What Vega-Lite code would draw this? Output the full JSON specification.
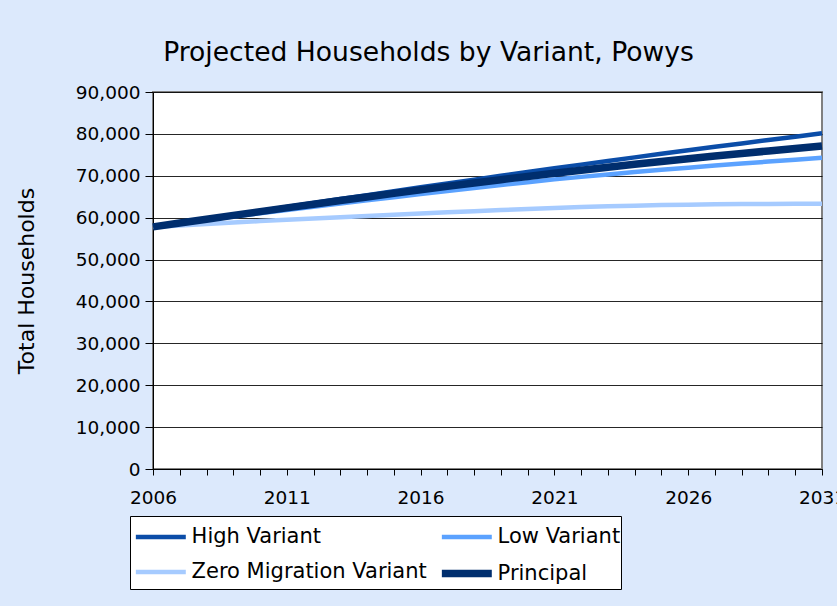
{
  "$schema": "https://vega.github.io/schema/vega-lite/v6.json",
  "width": 669,
  "height": 377,
  "autosize": {"type": "none"},
  "padding": {"left": 153, "top": 92, "right": 15, "bottom": 137},
  "background": "#DCE9FC",
  "config": {
    "view": {"fill": "white", "stroke": "#808080", "strokeWidth": 2},
    "font": "DejaVu Sans"
  },
  "title": {
    "text": "Projected Households by Variant, Powys",
    "font": "DejaVu Sans",
    "fontSize": 26.6,
    "fontWeight": "normal",
    "color": "black",
    "anchor": "middle",
    "frame": "group",
    "dx": -59,
    "offset": 16
  },
  "data": {
    "values": [
      {"year": 2006, "variant": "High Variant", "households": 57800},
      {"year": 2007, "variant": "High Variant", "households": 58750},
      {"year": 2008, "variant": "High Variant", "households": 59700},
      {"year": 2009, "variant": "High Variant", "households": 60650},
      {"year": 2010, "variant": "High Variant", "households": 61600},
      {"year": 2011, "variant": "High Variant", "households": 62550},
      {"year": 2012, "variant": "High Variant", "households": 63500},
      {"year": 2013, "variant": "High Variant", "households": 64440},
      {"year": 2014, "variant": "High Variant", "households": 65380},
      {"year": 2015, "variant": "High Variant", "households": 66310},
      {"year": 2016, "variant": "High Variant", "households": 67240},
      {"year": 2017, "variant": "High Variant", "households": 68160},
      {"year": 2018, "variant": "High Variant", "households": 69080},
      {"year": 2019, "variant": "High Variant", "households": 69990},
      {"year": 2020, "variant": "High Variant", "households": 70890},
      {"year": 2021, "variant": "High Variant", "households": 71780},
      {"year": 2022, "variant": "High Variant", "households": 72660},
      {"year": 2023, "variant": "High Variant", "households": 73530},
      {"year": 2024, "variant": "High Variant", "households": 74390},
      {"year": 2025, "variant": "High Variant", "households": 75240},
      {"year": 2026, "variant": "High Variant", "households": 76080},
      {"year": 2027, "variant": "High Variant", "households": 76910},
      {"year": 2028, "variant": "High Variant", "households": 77730},
      {"year": 2029, "variant": "High Variant", "households": 78540},
      {"year": 2030, "variant": "High Variant", "households": 79340},
      {"year": 2031, "variant": "High Variant", "households": 80140},
      {"year": 2006, "variant": "Low Variant", "households": 57800},
      {"year": 2007, "variant": "Low Variant", "households": 58620},
      {"year": 2008, "variant": "Low Variant", "households": 59440},
      {"year": 2009, "variant": "Low Variant", "households": 60250},
      {"year": 2010, "variant": "Low Variant", "households": 61050},
      {"year": 2011, "variant": "Low Variant", "households": 61840},
      {"year": 2012, "variant": "Low Variant", "households": 62620},
      {"year": 2013, "variant": "Low Variant", "households": 63390},
      {"year": 2014, "variant": "Low Variant", "households": 64150},
      {"year": 2015, "variant": "Low Variant", "households": 64900},
      {"year": 2016, "variant": "Low Variant", "households": 65640},
      {"year": 2017, "variant": "Low Variant", "households": 66370},
      {"year": 2018, "variant": "Low Variant", "households": 67080},
      {"year": 2019, "variant": "Low Variant", "households": 67780},
      {"year": 2020, "variant": "Low Variant", "households": 68470},
      {"year": 2021, "variant": "Low Variant", "households": 69140},
      {"year": 2022, "variant": "Low Variant", "households": 69740},
      {"year": 2023, "variant": "Low Variant", "households": 70320},
      {"year": 2024, "variant": "Low Variant", "households": 70880},
      {"year": 2025, "variant": "Low Variant", "households": 71420},
      {"year": 2026, "variant": "Low Variant", "households": 71940},
      {"year": 2027, "variant": "Low Variant", "households": 72440},
      {"year": 2028, "variant": "Low Variant", "households": 72920},
      {"year": 2029, "variant": "Low Variant", "households": 73380},
      {"year": 2030, "variant": "Low Variant", "households": 73820},
      {"year": 2031, "variant": "Low Variant", "households": 74300},
      {"year": 2006, "variant": "Zero Migration Variant", "households": 57800},
      {"year": 2007, "variant": "Zero Migration Variant", "households": 58150},
      {"year": 2008, "variant": "Zero Migration Variant", "households": 58500},
      {"year": 2009, "variant": "Zero Migration Variant", "households": 58840},
      {"year": 2010, "variant": "Zero Migration Variant", "households": 59180},
      {"year": 2011, "variant": "Zero Migration Variant", "households": 59500},
      {"year": 2012, "variant": "Zero Migration Variant", "households": 59810},
      {"year": 2013, "variant": "Zero Migration Variant", "households": 60120},
      {"year": 2014, "variant": "Zero Migration Variant", "households": 60420},
      {"year": 2015, "variant": "Zero Migration Variant", "households": 60710},
      {"year": 2016, "variant": "Zero Migration Variant", "households": 61000},
      {"year": 2017, "variant": "Zero Migration Variant", "households": 61280},
      {"year": 2018, "variant": "Zero Migration Variant", "households": 61550},
      {"year": 2019, "variant": "Zero Migration Variant", "households": 61810},
      {"year": 2020, "variant": "Zero Migration Variant", "households": 62060},
      {"year": 2021, "variant": "Zero Migration Variant", "households": 62300},
      {"year": 2022, "variant": "Zero Migration Variant", "households": 62520},
      {"year": 2023, "variant": "Zero Migration Variant", "households": 62710},
      {"year": 2024, "variant": "Zero Migration Variant", "households": 62870},
      {"year": 2025, "variant": "Zero Migration Variant", "households": 63000},
      {"year": 2026, "variant": "Zero Migration Variant", "households": 63100},
      {"year": 2027, "variant": "Zero Migration Variant", "households": 63180},
      {"year": 2028, "variant": "Zero Migration Variant", "households": 63240},
      {"year": 2029, "variant": "Zero Migration Variant", "households": 63280},
      {"year": 2030, "variant": "Zero Migration Variant", "households": 63300},
      {"year": 2031, "variant": "Zero Migration Variant", "households": 63310},
      {"year": 2006, "variant": "Principal", "households": 57800},
      {"year": 2007, "variant": "Principal", "households": 58720},
      {"year": 2008, "variant": "Principal", "households": 59640},
      {"year": 2009, "variant": "Principal", "households": 60550},
      {"year": 2010, "variant": "Principal", "households": 61450},
      {"year": 2011, "variant": "Principal", "households": 62340},
      {"year": 2012, "variant": "Principal", "households": 63220},
      {"year": 2013, "variant": "Principal", "households": 64090},
      {"year": 2014, "variant": "Principal", "households": 64950},
      {"year": 2015, "variant": "Principal", "households": 65800},
      {"year": 2016, "variant": "Principal", "households": 66640},
      {"year": 2017, "variant": "Principal", "households": 67470},
      {"year": 2018, "variant": "Principal", "households": 68280},
      {"year": 2019, "variant": "Principal", "households": 69070},
      {"year": 2020, "variant": "Principal", "households": 69850},
      {"year": 2021, "variant": "Principal", "households": 70600},
      {"year": 2022, "variant": "Principal", "households": 71330},
      {"year": 2023, "variant": "Principal", "households": 72040},
      {"year": 2024, "variant": "Principal", "households": 72730},
      {"year": 2025, "variant": "Principal", "households": 73400},
      {"year": 2026, "variant": "Principal", "households": 74060},
      {"year": 2027, "variant": "Principal", "households": 74700},
      {"year": 2028, "variant": "Principal", "households": 75320},
      {"year": 2029, "variant": "Principal", "households": 75930},
      {"year": 2030, "variant": "Principal", "households": 76520},
      {"year": 2031, "variant": "Principal", "households": 77100}
    ]
  },
  "mark": {"type": "line", "strokeJoin": "round"},
  "encoding": {
    "x": {
      "field": "year",
      "type": "quantitative",
      "scale": {"domain": [2006, 2031], "nice": false, "zero": false},
      "axis": {
        "title": null,
        "values": [2006,2007,2008,2009,2010,2011,2012,2013,2014,2015,2016,2017,2018,2019,2020,2021,2022,2023,2024,2025,2026,2027,2028,2029,2030,2031],
        "format": "d",
        "labelExpr": "(datum.value - 2006) % 5 == 0 ? datum.label : ''",
        "grid": false,
        "tickSize": 6,
        "tickColor": "black",
        "domainColor": "black",
        "labelFont": "DejaVu Sans",
        "labelFontSize": 18.5,
        "labelColor": "black",
        "labelPadding": 13,
        "labelFlush": false,
        "labelOverlap": false,
        "labelBound": false
      }
    },
    "y": {
      "field": "households",
      "type": "quantitative",
      "scale": {"domain": [0, 90000], "nice": false},
      "axis": {
        "title": "Total Households",
        "values": [0,10000,20000,30000,40000,50000,60000,70000,80000,90000],
        "format": ",d",
        "grid": true,
        "gridColor": "black",
        "gridWidth": 1,
        "gridOpacity": 0.85,
        "tickSize": 8,
        "tickColor": "black",
        "domainColor": "black",
        "labelFont": "DejaVu Sans",
        "labelFontSize": 18.5,
        "labelColor": "black",
        "labelPadding": 5,
        "titleFont": "DejaVu Sans",
        "titleFontSize": 22,
        "titleFontWeight": "normal",
        "titleColor": "black",
        "titlePadding": 37
      }
    },
    "color": {
      "field": "variant",
      "type": "nominal",
      "scale": {
        "domain": ["High Variant", "Low Variant", "Zero Migration Variant", "Principal"],
        "range": ["#0B4DA8", "#5BA2FF", "#A6CBFF", "#002E6E"]
      },
      "legend": {
        "title": "\u00a0\u00a0\u00a0\u00a0\u00a0\u00a0\u00a0\u00a0\u00a0\u00a0\u00a0\u00a0\u00a0\u00a0\u00a0\u00a0\u00a0\u00a0",
        "titleOrient": "right",
        "titlePadding": 0,
        "titleFont": "DejaVu Sans",
        "titleFontSize": 21,
        "titleFontWeight": "normal",
        "titleLimit": 600,
        "orient": "none",
        "legendX": -23,
        "legendY": 424,
        "columns": 2,
        "direction": "horizontal",
        "symbolType": "M-0.9,0H1.8",
        "symbolSize": 1369,
        "symbolStrokeWidth": 4.5,
        "labelFont": "DejaVu Sans",
        "labelFontSize": 21,
        "labelColor": "black",
        "labelLimit": 600,
        "labelOffset": 16.6,
        "padding": 0,
        "rowPadding": 4,
        "columnPadding": -1,
        "strokeColor": "black",
        "fillColor": "white"
      }
    },
    "strokeWidth": {
      "field": "variant",
      "type": "nominal",
      "scale": {
        "type": "ordinal",
        "domain": ["High Variant", "Low Variant", "Zero Migration Variant", "Principal"],
        "range": [4.5, 4.5, 4.5, 7.5]
      },
      "legend": null
    }
  }
}
